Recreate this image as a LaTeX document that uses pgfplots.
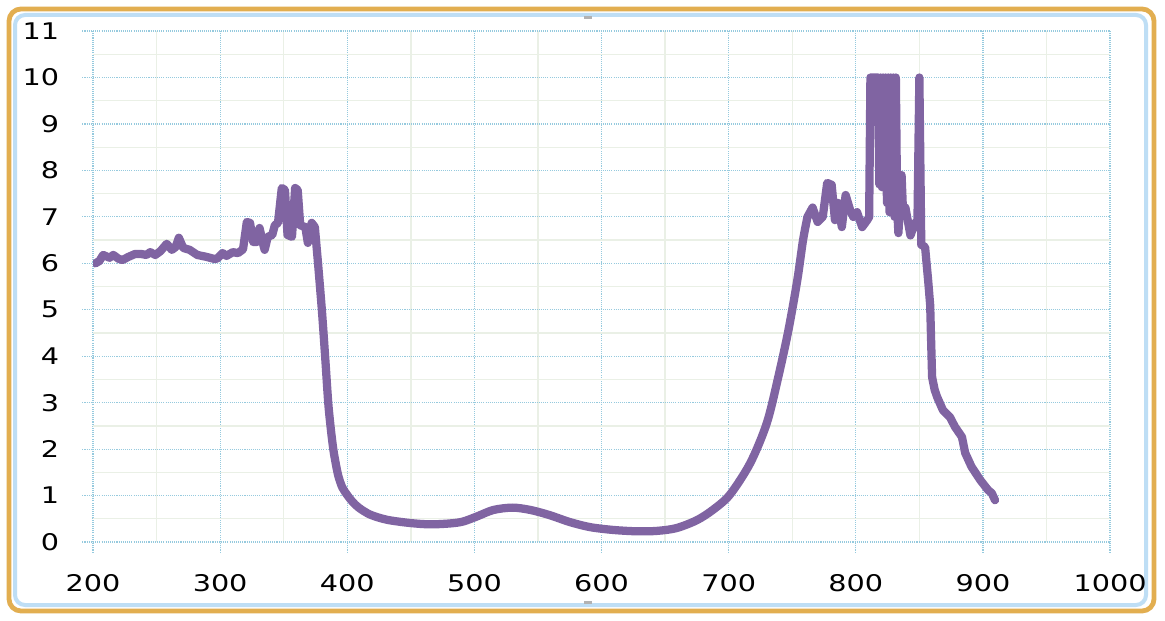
\documentclass[border=0pt]{standalone}
\usepackage{fontspec}
\usepackage{pgfplots}
\pgfplotsset{compat=1.18}
\newfontfamily\tickfont[FakeStretch=1.25]{DejaVu Sans}
\definecolor{curve}{HTML}{8064A2}
\definecolor{gridmaj}{RGB}{150,202,222}
\definecolor{gridmin}{RGB}{234,240,230}
\definecolor{frameorange}{RGB}{226,174,80}
\definecolor{frameblue}{RGB}{190,222,245}

\begin{document}
\begin{tikzpicture}
  \begin{scope}[x=0.375pt,y=0.375pt]
    \useasboundingbox (0,0) rectangle (1165,620);
    \fill[white] (0,0) rectangle (1165,620);
    % frames
    \draw[frameorange, line width=1.8pt, rounded corners=4.5pt] (9,9) rectangle (1154,611);
    \draw[frameblue, line width=1.5pt, rounded corners=3.75pt] (15,15) rectangle (1146,605);
    \fill[gray!60] (584,601) rectangle (592,604);
    \fill[gray!60] (584,16) rectangle (592,19);
  \end{scope}

  \begin{axis}[
      at={(34.875pt,29.25pt)}, anchor=south west,
      scale only axis,
      width=381.4pt, height=191.6pt,
      xmin=200, xmax=1000, ymin=0, ymax=11,
      xtick distance=100, ytick distance=1,
      minor x tick num=1, minor y tick num=1,
      grid=both,
      major grid style={gridmaj, line width=0.45pt, dash pattern=on 0.4pt off 0.4pt},
      minor grid style={gridmin, line width=0.5pt},
      axis line style={draw=none},
      tick align=outside,
      major tick length=4pt,
      minor tick length=0pt,
      major tick style={gridmaj, line width=0.45pt, dash pattern=on 0.4pt off 0.4pt},
      tick pos=left,
      /pgf/number format/assume math mode=true,
      /pgf/number format/1000 sep={},
      tick label style={font=\fontsize{8.6}{9}\tickfont, black},
      yticklabel style={xshift=-5.2pt},
      xticklabel style={yshift=-4.5pt},
    ]
    % noisy UV part
    \addplot[curve, line width=3.1pt, line join=round, line cap=round] coordinates {
      (202,6.0) (205,6.05) (208,6.18) (213,6.12) (216,6.18) (220,6.1) (223,6.07)
      (228,6.14) (233,6.2) (238,6.2) (242,6.18) (245,6.24) (249,6.18) (253,6.26)
      (258,6.42) (262,6.29) (265,6.35) (267.5,6.55) (271,6.33) (276,6.29) (282,6.18)
      (289,6.14) (296,6.09) (298,6.11) (302,6.22) (305,6.16) (310,6.24) (314,6.22)
      (318,6.3) (321,6.89) (323.5,6.87) (326,6.46) (329,6.46) (331,6.76) (334,6.39)
      (335,6.29) (337.5,6.57) (341,6.61) (343,6.82) (345.5,6.87) (348.5,7.62)
      (351,7.58) (353,6.61) (356.5,6.57) (359,7.62) (361,7.58) (363,6.82) (367,6.78)
      (369,6.44) (372,6.87) (374.5,6.78) (377,6.0)
    };
    % smooth visible part
    \addplot[curve, line width=3.1pt, line join=round, line cap=round, smooth, tension=0.5] coordinates {
      (377,6.0) (380,5.0) (382.5,4.03) (385,3.01) (387,2.45) (389,2.0) (391,1.68)
      (393,1.42) (396,1.18) (400,1.01) (404,0.87) (409,0.74) (418,0.59) (431,0.48)
      (449,0.41) (465,0.38) (481,0.40) (491,0.44) (502,0.55) (515,0.69) (530,0.74)
      (544,0.69) (559,0.58) (575,0.43) (591,0.32) (609,0.26) (628,0.23) (644,0.24)
      (659,0.30) (675,0.47) (688,0.70) (701,1.02) (717,1.70) (730,2.56) (739,3.55)
      (747,4.56) (754,5.64) (758.5,6.5) (762,7.0)
    };
    % noisy NIR part
    \addplot[curve, line width=3.1pt, line join=round, line cap=round] coordinates {
      (762,7.0) (766,7.2) (770,6.89) (774,7.0) (777.5,7.73)
      (781,7.69) (783.6,6.93) (786,7.3) (789,6.78) (792,7.47) (795.5,7.15) (798,7.0)
      (801,7.1) (805,6.78) (809,6.93) (810.5,7.0) (811.5,10) (817.5,10) (818.5,7.7)
      (819.5,10) (820.5,7.64) (821.5,10) (822.5,7.8) (823.5,10) (824.5,7.3)
      (825.5,10) (826.5,7.1) (827.5,10) (828.5,7.4) (829.5,10) (830.5,7.0)
      (831.5,10) (832.5,7.2) (833.5,6.65) (836,7.9) (837,7.2) (839,7.2) (841,6.9)
      (843,6.6) (846.5,6.87) (848.5,6.9) (850,10) (851.5,6.4) (854.5,6.35)
      (857,5.6) (858.5,5.1) (860,3.55)
    };
    \addplot[curve, line width=3.1pt, line join=round, line cap=round] coordinates {
      (860,3.55) (862,3.28) (864,3.12) (868.5,2.84) (874,2.69)
      (878,2.48) (883.5,2.26) (886,1.92) (891,1.62) (898,1.33) (904,1.12)
      (907,1.05) (909.5,0.9)
    };
  \end{axis}
\end{tikzpicture}
\end{document}
